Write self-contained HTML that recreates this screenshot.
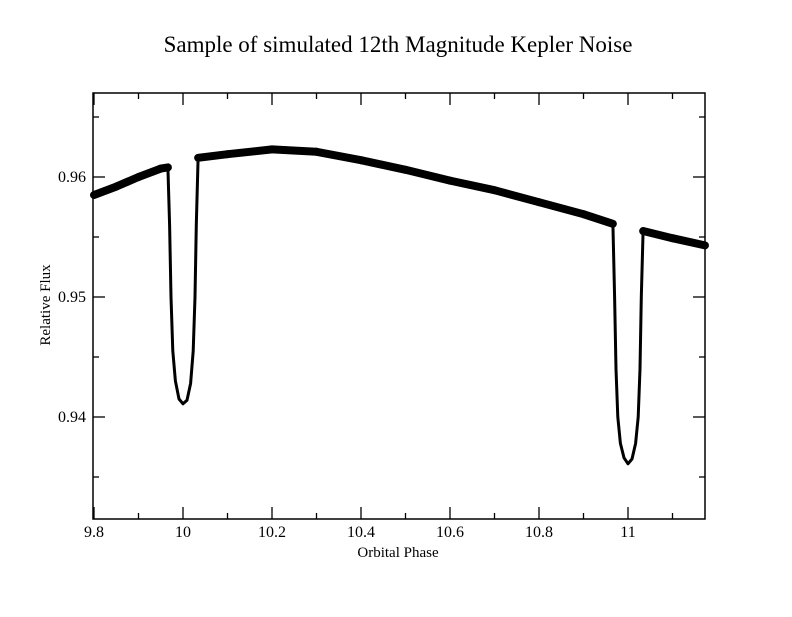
<!DOCTYPE html>
<html><head><meta charset="utf-8"><style>
html,body{margin:0;padding:0;background:#fff;}
svg text{font-family:"Liberation Serif",serif;fill:#000;}
</style></head><body>
<svg id="chart" width="792" height="612" viewBox="0 0 792 612" xmlns="http://www.w3.org/2000/svg">
<rect width="792" height="612" fill="#fff"/>
<text x="398" y="52" font-size="23" text-anchor="middle">Sample of simulated 12th Magnitude Kepler Noise</text>
<text x="398" y="557" font-size="15" text-anchor="middle">Orbital Phase</text>
<text transform="translate(50,305) rotate(-90)" font-size="15" text-anchor="middle">Relative Flux</text>
<g id="ticks"></g>
<g id="series"></g>
<rect x="93" y="93" width="612" height="426" fill="none" stroke="#000" stroke-width="1.5"/>
</svg>
<script>
const phase=[9.80,9.85,9.90,9.95,9.966,9.970,9.973,9.977,9.983,9.991,10.000,10.009,10.017,10.023,10.027,10.030,10.034,10.1,10.2,10.3,10.4,10.5,10.6,10.7,10.8,10.9,10.966,10.970,10.973,10.977,10.983,10.991,11.000,11.009,11.017,11.023,11.027,11.030,11.034,11.1,11.173];
const flux=[0.9585,0.9592,0.9600,0.9607,0.9608,0.9560,0.9500,0.9455,0.9430,0.9415,0.9411,0.9414,0.9428,0.9455,0.9500,0.9560,0.9616,0.9619,0.9623,0.9621,0.9614,0.9606,0.9597,0.9589,0.9579,0.9569,0.9561,0.9500,0.9440,0.9400,0.9378,0.9366,0.9361,0.9365,0.9378,0.9400,0.9440,0.9500,0.9555,0.9549,0.9543];
const xTicks=[9.8,10,10.2,10.4,10.6,10.8,11];
const xTickLabels=["9.8","10","10.2","10.4","10.6","10.8","11"];
const yTicks=[0.94,0.95,0.96];
const yTickLabels=["0.94","0.95","0.96"];
const X0=94,XS=445,XMIN=9.8;
const Y0=177,YS=12000,YREF=0.96;
function xp(v){return X0+(v-XMIN)*XS;}
function yp(v){return Y0-(v-YREF)*YS;}
const NS="http://www.w3.org/2000/svg";
const tg=document.getElementById('ticks');
function ln(x1,y1,x2,y2,name){const l=document.createElementNS(NS,'line');
l.setAttribute('x1',x1);l.setAttribute('y1',y1);l.setAttribute('x2',x2);l.setAttribute('y2',y2);
l.setAttribute('stroke','#000');l.setAttribute('stroke-width','1.3');


tg.appendChild(l);}
function tx(x,y,s,anchor,name){const t=document.createElementNS(NS,'text');
t.setAttribute('x',x);t.setAttribute('y',y);t.setAttribute('font-size','16');t.setAttribute('text-anchor',anchor);t.textContent=s;


tg.appendChild(t);}
for(let v=9.8;v<11.17;v+=0.1){const x=xp(v);const major=Math.abs(Math.round(v*10)%2)===0;const L=major?12:6;
ln(x,519,x,519-L,'x-tick');ln(x,93,x,93+L,'x-tick-top');}
xTicks.forEach((v,i)=>tx(xp(v),537,xTickLabels[i],'middle','x-tick-label'));
for(let v=0.935;v<0.967;v+=0.005){const y=yp(v);const major=Math.abs(Math.round(v*1000)%10)===0;const L=major?12:6;
ln(93,y,93+L,y,'y-tick');ln(705,y,705-L,y,'y-tick-right');}
yTicks.forEach((v,i)=>tx(86,yp(v)+5,yTickLabels[i],'end','y-tick-label'));
const sg=document.getElementById('series');
const pts=phase.map((p,i)=>xp(p).toFixed(1)+','+yp(flux[i]).toFixed(1)).join(' ');
const line=document.createElementNS(NS,'polyline');
line.setAttribute('points',pts);line.setAttribute('fill','none');line.setAttribute('stroke','#000');
line.setAttribute('stroke-width','3');line.setAttribute('stroke-linejoin','round');


sg.appendChild(line);
for(let i=0;i<phase.length-1;i++){
  if(flux[i]>0.953 && flux[i+1]>0.953){
    const slope=Math.abs((flux[i+1]-flux[i])/(phase[i+1]-phase[i]));
    if(slope<0.05){
      const s=document.createElementNS(NS,'line');
      s.setAttribute('x1',xp(phase[i]));s.setAttribute('y1',yp(flux[i]));
      s.setAttribute('x2',xp(phase[i+1]));s.setAttribute('y2',yp(flux[i+1]));
      s.setAttribute('stroke','#000');s.setAttribute('stroke-width','8');s.setAttribute('stroke-linecap','round');
      
      
      sg.appendChild(s);
    }
  }
}
</script>
</body></html>
